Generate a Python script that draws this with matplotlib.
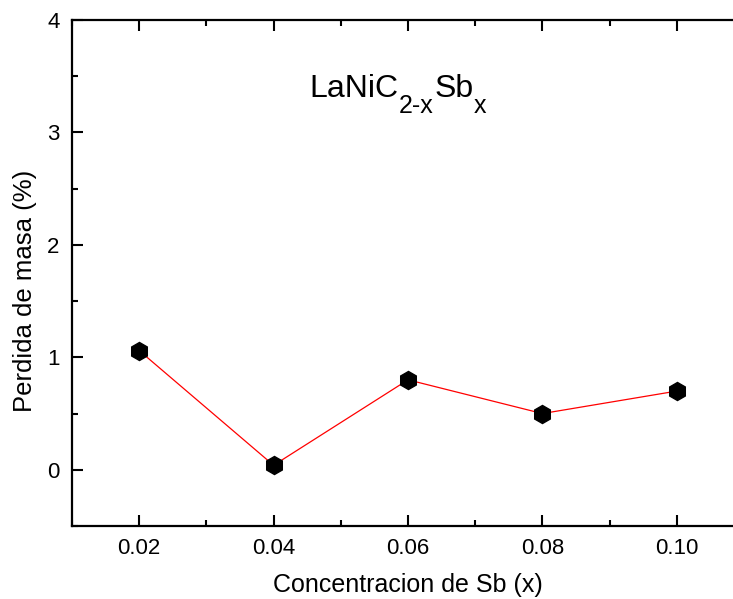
import matplotlib
matplotlib.use("Agg")
import matplotlib.pyplot as plt
from matplotlib.ticker import MultipleLocator

plt.rcParams['font.family'] = ['Liberation Sans', 'DejaVu Sans']

# Sb concentration vs mass loss
conc = [0.02, 0.04, 0.06, 0.08, 0.10]
perdida = [1.06, 0.04, 0.80, 0.50, 0.70]
xticks = [0.02, 0.04, 0.06, 0.08, 0.10]
xticklabels = ["0.02", "0.04", "0.06", "0.08", "0.10"]

fig = plt.figure(figsize=(7.33, 5.99), dpi=100)
ax = fig.add_axes([72/733, 1 - 526/599, (744 - 72)/733, (526 - 20)/599])

ax.plot(conc, perdida, color="red", lw=0.9, zorder=2)
ax.plot(conc, perdida, ls="none", marker="h", ms=13, color="black", zorder=3)

ax.set_xlim(0.01, 0.11)
ax.set_ylim(-0.5, 4)
ax.set_xticks(xticks)
ax.set_xticklabels(xticklabels)
ax.set_yticks([0, 1, 2, 3, 4])
ax.xaxis.set_minor_locator(MultipleLocator(0.01))
ax.yaxis.set_minor_locator(MultipleLocator(0.5))
ax.tick_params(which="both", direction="in", top=True, right=True, width=1.5,
               labelsize=16, pad=9)
ax.tick_params(which="major", length=8)
ax.tick_params(which="minor", length=4.5)
for sp in ax.spines.values():
    sp.set_linewidth(1.6)

ax.set_xlabel("Concentracion de Sb (x)", fontsize=18, labelpad=10)
ax.set_ylabel("Perdida de masa (%)", fontsize=18.5)
ax.yaxis.set_label_coords(-0.052, 0.464)

# formula label built piece by piece so the subscripts sit low
big, small, sub_dy = 23, 18, -9.8
t0 = ax.text(0.3527, 0.848, "LaNiC", transform=ax.transAxes, fontsize=big,
             ha="left", va="baseline")
t1 = ax.annotate("2-x", xy=(1, 0), xycoords=t0, xytext=(0.5, sub_dy),
                 textcoords="offset points", fontsize=small, va="bottom")
t2 = ax.annotate("Sb", xy=(1, 0), xycoords=(t1, t0), xytext=(0.5, 0),
                 textcoords="offset points", fontsize=big, va="bottom")
t3 = ax.annotate("x", xy=(1, 0), xycoords=t2, xytext=(0.5, sub_dy),
                 textcoords="offset points", fontsize=small, va="bottom")

fig.savefig("out.png", dpi=100)
